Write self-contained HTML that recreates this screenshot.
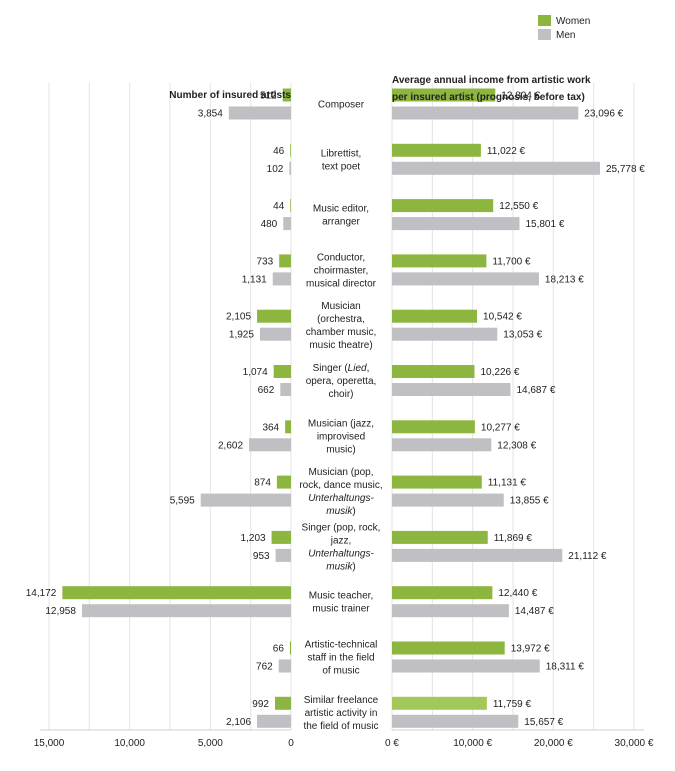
<!DOCTYPE html>
<html><head><meta charset="utf-8"><style>
body{margin:0;background:#fff}
svg text{font-family:"Liberation Sans",sans-serif;font-size:10px;fill:#222}
</style></head><body>
<svg id="c" width="675" height="766" xmlns="http://www.w3.org/2000/svg"></svg>
<script>
const categories=[["Composer"],["Librettist,","text poet"],["Music editor,","arranger"],["Conductor,","choirmaster,","musical director"],["Musician","(orchestra,","chamber music,","music theatre)"],["Singer (<i>Lied</i>,","opera, operetta,","choir)"],["Musician (jazz,","improvised","music)"],["Musician (pop,","rock, dance music,","<i>Unterhaltungs-</i>","<i>musik</i>)"],["Singer (pop, rock,","jazz,","<i>Unterhaltungs-</i>","<i>musik</i>)"],["Music teacher,","music trainer"],["Artistic-technical","staff in the field","of music"],["Similar freelance","artistic activity in","the field of music"]];
const womenCount=[512,46,44,733,2105,1074,364,874,1203,14172,66,992];
const menCount=[3854,102,480,1131,1925,662,2602,5595,953,12958,762,2106];
const womenIncome=[12804,11022,12550,11700,10542,10226,10277,11131,11869,12440,13972,11759];
const menIncome=[23096,25778,15801,18213,13053,14687,12308,13855,21112,14487,18311,15657];
const leftTicks=[15000,10000,5000,0];
const rightTicks=[0,10000,20000,30000];
const svg=document.getElementById('c');const NS='http://www.w3.org/2000/svg';
function el(t,a,p){const e=document.createElementNS(NS,t);for(const k in a)e.setAttribute(k,a[k]);(p||svg).appendChild(e);return e;}
const xL=v=>291-v*242/15000, xR=v=>392+v*242/30000;
const fmt=v=>v.toLocaleString('en-US');
// gridlines
for(let v=0;v<=15000;v+=2500){const g=el('line',{x1:xL(v),x2:xL(v),y1:83,y2:730,stroke:'#e3e3e3'});}
for(let v=0;v<=30000;v+=5000){const g=el('line',{x1:xR(v),x2:xR(v),y1:83,y2:730,stroke:'#e3e3e3'});}
let a=el('line',{x1:40,x2:291,y1:730,y2:730,stroke:'#d0d0d0'});
a=el('line',{x1:392,x2:644,y1:730,y2:730,stroke:'#d0d0d0'});
leftTicks.forEach(v=>{const t=el('text',{x:xL(v),y:746,'text-anchor':'middle'});t.textContent=fmt(v);});
rightTicks.forEach(v=>{const t=el('text',{x:xR(v),y:746,'text-anchor':'middle'});t.textContent=fmt(v)+' €';});
categories.forEach((c,i)=>{
 const yc=95+55.3*i;const h=13;
 let r=el('rect',{x:xL(womenCount[i]),y:yc-h/2,width:291-xL(womenCount[i]),height:h,fill:'#8db641'});
 r=el('rect',{x:xL(menCount[i]),y:yc+18-h/2,width:291-xL(menCount[i]),height:h,fill:'#bfbfc4'});
 r=el('rect',{x:392,y:yc-h/2,width:xR(womenIncome[i])-392,height:h,fill:i==11?'#a3c85a':'#8db641'});
 r=el('rect',{x:392,y:yc+18-h/2,width:xR(menIncome[i])-392,height:h,fill:'#bfbfc4'});
 let t=el('text',{x:xL(womenCount[i])-6,y:yc+3.5,'text-anchor':'end'});t.textContent=fmt(womenCount[i]);
 t=el('text',{x:xL(menCount[i])-6,y:yc+21.5,'text-anchor':'end'});t.textContent=fmt(menCount[i]);
 t=el('text',{x:xR(womenIncome[i])+6,y:yc+3.5});t.textContent=fmt(womenIncome[i])+' €';
 t=el('text',{x:xR(menIncome[i])+6,y:yc+21.5});t.textContent=fmt(menIncome[i])+' €';
 const n=c.length,y0=yc+9-(n-1)*13/2+3.5;
 const g=el('text',{x:341,y:y0,'text-anchor':'middle'});
 c.forEach((line,j)=>{const ts=el('tspan',{x:341,y:y0+j*13},g);
  line.split(/(<i>.*?<\/i>)/).forEach(part=>{if(!part)return;const it=part.startsWith('<i>');const s=el('tspan',it?{'font-style':'italic'}:{},ts);s.textContent=part.replace(/<\/?i>/g,'');});});
});
let t=el('text',{x:291,y:98,'text-anchor':'end','font-weight':'bold'});t.textContent='Number of insured artists';
t=el('text',{x:392,y:83,'font-weight':'bold'});t.textContent='Average annual income from artistic work';
t=el('text',{x:392,y:100,'font-weight':'bold'});t.textContent='per insured artist (prognosis, before tax)';
let l=el('rect',{x:538,y:15,width:13,height:11,fill:'#8db641'});
l=el('rect',{x:538,y:29,width:13,height:11,fill:'#bfbfc4'});
t=el('text',{x:556,y:24});t.textContent='Women';
t=el('text',{x:556,y:38});t.textContent='Men';
</script>
</body></html>
